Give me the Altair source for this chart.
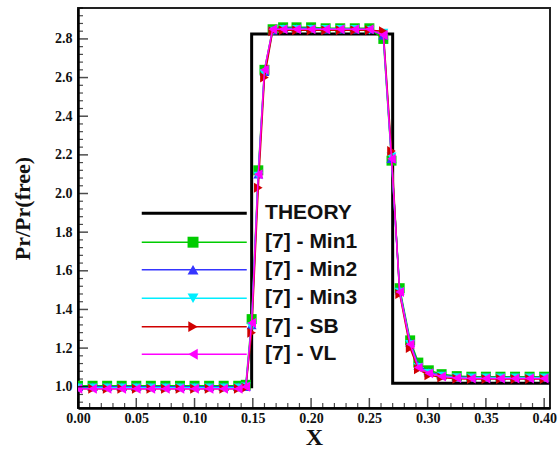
import altair as alt
import pandas as pd

# ---------------- data ----------------
X_GRID = [0.000, 0.0125, 0.025, 0.0375, 0.050, 0.0625, 0.075, 0.0875, 0.100, 0.1125, 0.125, 0.1375,
          0.144, 0.149, 0.1547, 0.160, 0.167,
          0.176, 0.1875, 0.200, 0.2125, 0.225, 0.2375, 0.250,
          0.262, 0.269, 0.276, 0.285, 0.292, 0.301, 0.312, 0.325,
          0.3375, 0.350, 0.3625, 0.375, 0.3875, 0.400]

MIN1 = [1.005, 1.005, 1.005, 1.005, 1.005, 1.005, 1.005, 1.005, 1.005, 1.005, 1.005, 1.005,
        1.010, 1.350, 2.120, 2.640, 2.850,
        2.860, 2.860, 2.860, 2.855, 2.855, 2.855, 2.855,
        2.800, 2.170, 1.510, 1.240, 1.125, 1.085, 1.065, 1.055,
        1.052, 1.052, 1.052, 1.052, 1.052, 1.052]
MIN2 = [1.000, 1.000, 1.000, 1.000, 1.000, 1.000, 1.000, 1.000, 1.000, 1.000, 1.000, 1.000,
        1.000, 1.320, 2.100, 2.630, 2.845,
        2.855, 2.855, 2.855, 2.850, 2.850, 2.850, 2.850,
        2.820, 2.180, 1.500, 1.230, 1.110, 1.075, 1.058, 1.050,
        1.048, 1.048, 1.048, 1.048, 1.048, 1.048]
MIN3 = [0.995, 0.995, 0.995, 0.995, 0.995, 0.995, 0.995, 0.995, 0.995, 0.995, 0.995, 0.995,
        1.000, 1.310, 2.090, 2.620, 2.840,
        2.850, 2.850, 2.850, 2.850, 2.850, 2.850, 2.845,
        2.830, 2.190, 1.490, 1.220, 1.100, 1.070, 1.055, 1.048,
        1.046, 1.046, 1.046, 1.046, 1.046, 1.046]
SB = [0.990, 0.990, 0.990, 0.990, 0.990, 0.990, 0.990, 0.990, 0.990, 0.990, 0.990, 0.990,
      0.995, 1.280, 2.030, 2.600, 2.840,
      2.845, 2.845, 2.845, 2.845, 2.845, 2.845, 2.845,
      2.840, 2.220, 1.480, 1.200, 1.090, 1.060, 1.048, 1.042,
      1.040, 1.040, 1.040, 1.040, 1.040, 1.040]
VL = [0.990, 0.990, 0.990, 0.990, 0.990, 0.990, 0.990, 0.990, 0.990, 0.990, 0.990, 0.990,
      1.000, 1.330, 2.100, 2.640, 2.850,
      2.850, 2.850, 2.850, 2.850, 2.850, 2.850, 2.850,
      2.820, 2.180, 1.490, 1.220, 1.100, 1.070, 1.053, 1.045,
      1.043, 1.043, 1.043, 1.043, 1.043, 1.043]

SERIES_NAMES = ["[7] - Min1", "[7] - Min2", "[7] - Min3", "[7] - SB", "[7] - VL"]
SERIES_VALUES = [MIN1, MIN2, MIN3, SB, VL]
COLORS = ["#00cc00", "#3535ff", "#00eeff", "#d00000", "#ff00ff"]
SHAPES = ["square", "triangle-up", "triangle-down", "triangle-right", "triangle-left"]

THEORY_X = [0.0, 0.149, 0.149, 0.270, 0.270, 0.405]
THEORY_Y = [1.0, 1.0, 2.826, 2.826, 1.018, 1.018]

X_MAJOR = [0.00, 0.05, 0.10, 0.15, 0.20, 0.25, 0.30, 0.35, 0.40]
Y_MAJOR = [1.0, 1.2, 1.4, 1.6, 1.8, 2.0, 2.2, 2.4, 2.6, 2.8]

# legend placement (data units)
LEG_Y = [1.898, 1.748, 1.605, 1.458, 1.311, 1.168]
LEG_X1, LEG_X2, LEG_XM, LEG_XT = 0.0547, 0.1448, 0.0987, 0.1605

X_DOMAIN = [0.0, 0.405]
Y_DOMAIN = [0.89, 2.96]

# minor tick positions
X_MINOR = [round(0.01 * i, 2) for i in range(41) if i % 5 != 0]
Y_MINOR = [round(0.92 + 0.04 * i, 2) for i in range(52)]
Y_MINOR = [v for v in Y_MINOR if abs(v * 5 - round(v * 5)) > 1e-6]

W, H = 472, 400
SERIF = "Liberation Serif"
SANS = "Liberation Sans"

xs = alt.Scale(domain=X_DOMAIN, nice=False, zero=False)
ys = alt.Scale(domain=Y_DOMAIN, nice=False, zero=False)

x_axis = alt.Axis(values=X_MAJOR, format=".2f", title="X", ticks=False, tickSize=0,
                  grid=False, domain=True, domainColor="black", domainWidth=2.5,
                  labelFont=SERIF, labelFontWeight="bold", labelFontSize=14, labelColor="#111",
                  labelPadding=3, labelFlush=False,
                  titleFont=SERIF, titleFontWeight="bold", titleFontSize=24, titleColor="#111",
                  titleY=29, titleBaseline="middle")
y_axis = alt.Axis(values=Y_MAJOR, format=".1f", title="Pr/Pr(free)", ticks=False, tickSize=0,
                  grid=False, domain=True, domainColor="black", domainWidth=2.5,
                  labelFont=SERIF, labelFontWeight="bold", labelFontSize=14, labelColor="#111",
                  labelPadding=6, labelFlush=False,
                  titleFont=SERIF, titleFontWeight="bold", titleFontSize=22, titleColor="#111",
                  titleX=-56, titleY=H / 2, titleAlign="center", titleBaseline="middle", titleAngle=270)


def X(field):
    return alt.X(field, type="quantitative", scale=xs, axis=x_axis)


def Y(field):
    return alt.Y(field, type="quantitative", scale=ys, axis=y_axis)


layers = []

# theory line
th = pd.DataFrame({"x": THEORY_X, "y": THEORY_Y, "i": list(range(len(THEORY_X)))})
layers.append(
    alt.Chart(th).mark_line(color="black", strokeWidth=3, clip=True).encode(
        x=X("x"), y=Y("y"), order=alt.Order("i:Q"))
)

# numerical series
for name, vals, col, shp in zip(SERIES_NAMES, SERIES_VALUES, COLORS, SHAPES):
    df = pd.DataFrame({"x": X_GRID, "y": vals})
    base = alt.Chart(df).encode(x=X("x"), y=Y("y"))
    layers.append(base.mark_line(color=col, strokeWidth=1.5, clip=True))
    layers.append(base.mark_point(filled=True, opacity=1, size=100, clip=True).encode(
        shape=alt.value(shp), color=alt.value(col)))

# legend
leg = pd.DataFrame({
    "name": ["THEORY"] + SERIES_NAMES,
    "y": LEG_Y,
    "x1": [LEG_X1] * 6,
    "x2": [LEG_X2] * 6,
    "xm": [LEG_XM] * 6,
    "xt": [LEG_XT] * 6,
})
layers.append(
    alt.Chart(leg.iloc[:1]).mark_rule(color="black", strokeWidth=3).encode(
        x=X("x1"), x2="x2:Q", y=Y("y"))
)
for k, (name, col, shp) in enumerate(zip(SERIES_NAMES, COLORS, SHAPES)):
    row = leg.iloc[k + 1:k + 2]
    layers.append(
        alt.Chart(row).mark_rule(color=col, strokeWidth=1.5).encode(
            x=X("x1"), x2="x2:Q", y=Y("y"))
    )
    layers.append(
        alt.Chart(row).mark_point(filled=True, opacity=1, size=120).encode(
            x=X("xm"), y=Y("y"), shape=alt.value(shp), color=alt.value(col))
    )
layers.append(
    alt.Chart(leg).mark_text(align="left", baseline="middle", font=SANS, fontWeight="bold",
                             fontSize=21, color="#111").encode(
        x=X("xt"), y=Y("y"), text="name:N")
)

# inward ticks
layers.append(alt.Chart(pd.DataFrame({"v": Y_MAJOR})).mark_tick(
    orient="horizontal", size=10, thickness=1.5, color="black").encode(
    y=Y("v"), x=alt.value(5)))
layers.append(alt.Chart(pd.DataFrame({"v": Y_MINOR})).mark_tick(
    orient="horizontal", size=5, thickness=1.2, color="black").encode(
    y=Y("v"), x=alt.value(2.5)))
layers.append(alt.Chart(pd.DataFrame({"v": X_MAJOR})).mark_tick(
    orient="vertical", size=10, thickness=1.5, color="black").encode(
    x=X("v"), y=alt.value(H - 5)))
layers.append(alt.Chart(pd.DataFrame({"v": X_MINOR})).mark_tick(
    orient="vertical", size=5, thickness=1.2, color="black").encode(
    x=X("v"), y=alt.value(H - 2.5)))

chart = alt.layer(*layers).properties(
    width=W, height=H,
    autosize=alt.AutoSizeParams(type="none"),
    padding={"left": 78, "top": 8, "right": 8, "bottom": 42},
    background="white",
).configure_view(stroke="#222", strokeWidth=2)

chart.save("out.html", embed_options={"renderer": "svg", "actions": False})
